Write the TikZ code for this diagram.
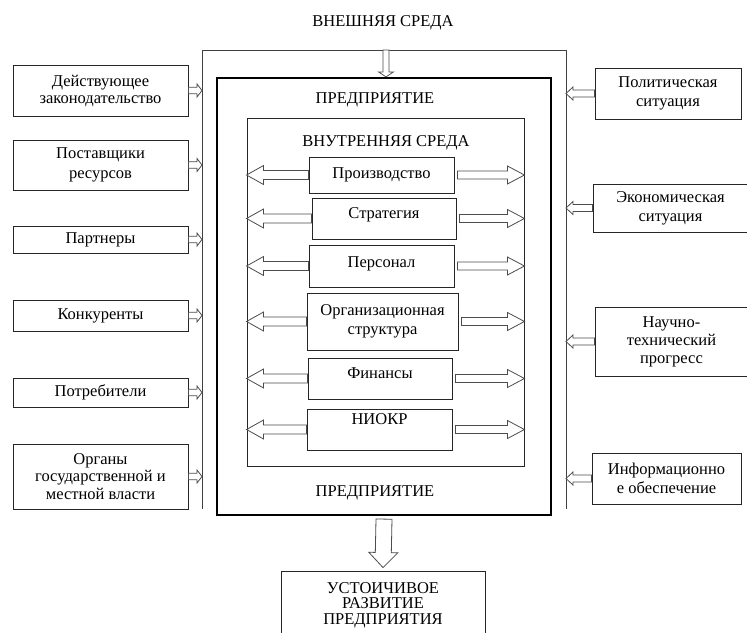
\documentclass[tikz,border=0pt]{standalone}
\usepackage{fontspec}
\setmainfont{Liberation Serif}
\usetikzlibrary{calc}
\tikzset{
  x=1pt, y=-1pt,
  box/.style={draw=black!85, line width=0.9pt, align=center, inner sep=2pt,
    font=\fontsize{16.5}{18.5}\selectfont},
  ttl/.style={inner sep=1pt, font=\fontsize{16.5}{18.5}\selectfont},
  frameline/.style={draw=black!75, line width=0.9pt},
  entbox/.style={draw=black, line width=2.2pt},
  barrow/.style={draw=black!70, line width=0.8pt, fill=white, line join=miter},
}
% hollow block arrow: from, to, shaft half width, head half width, head length
\newcommand\blockarrow[5]{%
  \draw[barrow] let \p1=(#1), \p2=(#2),
    \n1={atan2(\y2-\y1,\x2-\x1)}, \n2={veclen(\x2-\x1,\y2-\y1)} in
    ($(\p1)+(\n1+90:#3)$) -- ($(\p1)+(\n1:\n2-#5)+(\n1+90:#3)$)
    -- ($(\p1)+(\n1:\n2-#5)+(\n1+90:#4)$) -- (\p2)
    -- ($(\p1)+(\n1:\n2-#5)+(\n1-90:#4)$) -- ($(\p1)+(\n1:\n2-#5)+(\n1-90:#3)$)
    -- ($(\p1)+(\n1-90:#3)$) -- cycle;}
\begin{document}
\begin{tikzpicture}
\useasboundingbox[fill=white] (0,0) rectangle (747,632);

% titles and frames
\node[ttl] (ext) at (383,23) {ВНЕШНЯЯ СРЕДА};
\coordinate (fl) at (202,50);
\coordinate (fr) at (566,50);
\coordinate (ft) at (386,50);
\draw[frameline] (202,509) -- (fl) -- (fr) -- (566,509);

\node[entbox, minimum width=334pt, minimum height=437pt] (ent) at (384,296.5) {};
\node[ttl] (entT) at (375,100) {ПРЕДПРИЯТИЕ};
\node[ttl] (entB) at (375,493) {ПРЕДПРИЯТИЕ};

\node[box, minimum width=277pt, minimum height=348pt] (inner) at (385.5,292) {};
\node[ttl] (innT) at (386,143) {ВНУТРЕННЯЯ СРЕДА};

% internal boxes
\node[box, minimum width=145pt, minimum height=36pt] (proiz) at (381.5,175) {Производство};
\node[box, minimum width=144pt, minimum height=41pt, text height=10.5pt, text depth=11pt] (strat) at (384,218.5) {Стратегия};
\node[box, minimum width=145pt, minimum height=42pt, text height=10.5pt, text depth=8pt] (pers) at (381.5,266) {Персонал};
\node[box, minimum width=151pt, minimum height=57pt] (orgs) at (382.5,321.5) {Организационная\\структура};
\node[box, minimum width=144pt, minimum height=41pt, text height=10.5pt, text depth=11pt] (fin) at (380,378.5) {Финансы};
\node[box, minimum width=145pt, minimum height=41pt, text height=10.5pt, text depth=21pt] (niokr) at (379.5,429.5) {НИОКР};

% left external boxes
\node[box, minimum width=175pt, minimum height=51pt, font=\fontsize{16.5}{17}\selectfont] (zak) at (100.5,90.5) {Действующее\\законодательство};
\node[box, minimum width=175pt, minimum height=50pt, font=\fontsize{16.5}{20}\selectfont] (post) at (100.5,165) {Поставщики\\ресурсов};
\node[box, minimum width=175pt, minimum height=27pt] (part) at (100.5,239.5) {Партнеры};
\node[box, minimum width=175pt, minimum height=31pt] (konk) at (100.5,315.5) {Конкуренты};
\node[box, minimum width=175pt, minimum height=29pt] (potr) at (100.5,392.5) {Потребители};
\node[box, minimum width=175pt, minimum height=65pt, font=\fontsize{16.5}{17.5}\selectfont] (organ) at (100.5,476.5) {Органы\\государственной и\\местной власти};

% right external boxes
\node[box, minimum width=146pt, minimum height=51pt, font=\fontsize{16.5}{19}\selectfont] (pol) at (668,93.5) {Политическая\\ситуация};
\node[box, minimum width=155pt, minimum height=48pt, font=\fontsize{16.5}{19}\selectfont] (econ) at (670.5,208) {Экономическая\\ситуация};
\node[box, minimum width=153pt, minimum height=69pt, font=\fontsize{16.5}{18}\selectfont] (nauk) at (671.5,341.5) {Научно-\\технический\\прогресс};
\node[box, minimum width=149pt, minimum height=51pt] (inf) at (666.5,478.5) {Информационно\\е обеспечение};

% bottom box
\node[box, minimum width=204pt, minimum height=68pt, font=\fontsize{16.5}{15.5}\selectfont] (ustr) at (383,605) {УСТОИЧИВОЕ\\РАЗВИТИЕ\\ПРЕДПРИЯТИЯ};

% arrows: left external -> frame
\foreach \b in {zak,post,part,konk,potr,organ}{
  \blockarrow{\b.east}{\b.east -| fl}{3.2pt}{6.5pt}{5pt}
}
% right external -> frame
\foreach \b in {pol,econ,nauk,inf}{
  \blockarrow{\b.west}{\b.west -| fr}{3.5pt}{6.5pt}{7pt}
}
% internal arrows
\foreach \b in {proiz,strat,pers,orgs,fin,niokr}{
  \blockarrow{\b.west}{\b.west -| inner.west}{4.5pt}{9.5pt}{17pt}
  \blockarrow{$(\b.east)+(3pt,0pt)$}{\b.east -| inner.east}{4pt}{9pt}{17pt}
}
% top and bottom arrows
\blockarrow{ft}{ent.north -| ft}{3pt}{7.5pt}{5pt}
\blockarrow{$(ent.south)+(0pt,-3pt)$}{$(ustr.north)+(0pt,3pt)$}{8pt}{14.5pt}{15pt}
\end{tikzpicture}
\end{document}
